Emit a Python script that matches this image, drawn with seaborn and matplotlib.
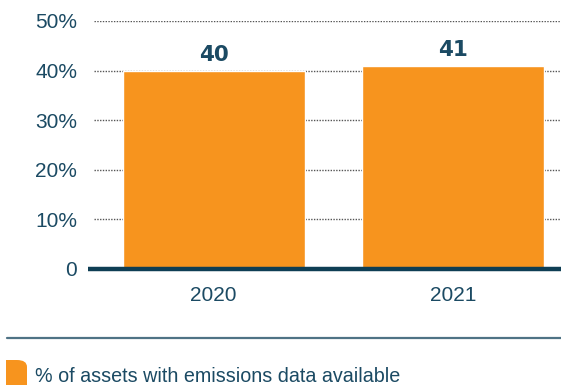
import matplotlib
matplotlib.use("Agg")
import matplotlib.pyplot as plt
from matplotlib.lines import Line2D
from matplotlib.patches import FancyBboxPatch, Rectangle
import seaborn as sns
import pandas as pd

years = ["2020", "2021"]
share_with_data = [40, 41]
y_ticks = [0, 10, 20, 30, 40, 50]
y_tick_labels = ["0", "10%", "20%", "30%", "40%", "50%"]
legend_label = "% of assets with emissions data available"

ORANGE = "#F7941E"
NAVY = "#1B4A63"
BASE = "#0E3E54"

sns.set_theme(style="white")
plt.rcParams["font.family"] = ["Liberation Sans", "DejaVu Sans"]

df = pd.DataFrame({"year": years, "share": share_with_data})

fig = plt.figure(figsize=(5.61, 3.85), dpi=100)
W, H = 561, 385
ax = fig.add_axes([94 / W, 1 - 269 / H, 1 - 94 / W, (269 - 21) / H])

sns.barplot(data=df, x="year", y="share", color=ORANGE, width=0.76,
            saturation=1, ax=ax, zorder=3)

ax.set_ylim(0, 50)
ax.set_xlim(-0.5, 1.45)
ax.set_yticks(y_ticks)
ax.set_yticklabels(y_tick_labels)
for y in y_ticks[1:]:
    ax.axhline(y, color="#555555", lw=1.0, ls=(0, (1, 1)), zorder=1)

for s in ax.spines.values():
    s.set_visible(False)
ax.set_xlabel("")
ax.set_ylabel("")
ax.tick_params(axis="y", length=0, pad=12, labelsize=15, labelcolor=NAVY)
ax.tick_params(axis="x", length=0, pad=12, labelsize=15, labelcolor=NAVY)

# value labels above each bar
for i, v in enumerate(share_with_data):
    ax.text(i, v + 2.0, str(v), ha="center", va="baseline", fontsize=15.5,
            fontweight="bold", color=NAVY, family=["DejaVu Sans"])

# thick baseline
fig.add_artist(Line2D([88 / W, 1.0], [1 - 269 / H, 1 - 269 / H],
                      color=BASE, lw=3.2, solid_capstyle="butt"))

# separator above the legend
fig.add_artist(Line2D([7 / W, 1.0], [1 - 337.5 / H, 1 - 337.5 / H],
                      color="#4F7385", lw=1.6))

# legend swatch: square with a rounded top-right corner
x0, x1, y_top = 6, 27, 360
fig.add_artist(FancyBboxPatch((x0 / W, 1 - 400 / H), (x1 - x0) / W,
                              (400 - y_top) / H,
                              boxstyle="round,pad=0,rounding_size=0.018",
                              transform=fig.transFigure, facecolor=ORANGE,
                              edgecolor="none"))
fig.add_artist(Rectangle((x0 / W, 1 - 400 / H), ((x1 - x0) / 2) / W,
                         (400 - y_top) / H, transform=fig.transFigure,
                         facecolor=ORANGE, edgecolor="none"))
fig.text(35 / W, 1 - 377 / H, legend_label, fontsize=14.2, color=NAVY,
         ha="left", va="center")

fig.savefig("out.png", dpi=100)
